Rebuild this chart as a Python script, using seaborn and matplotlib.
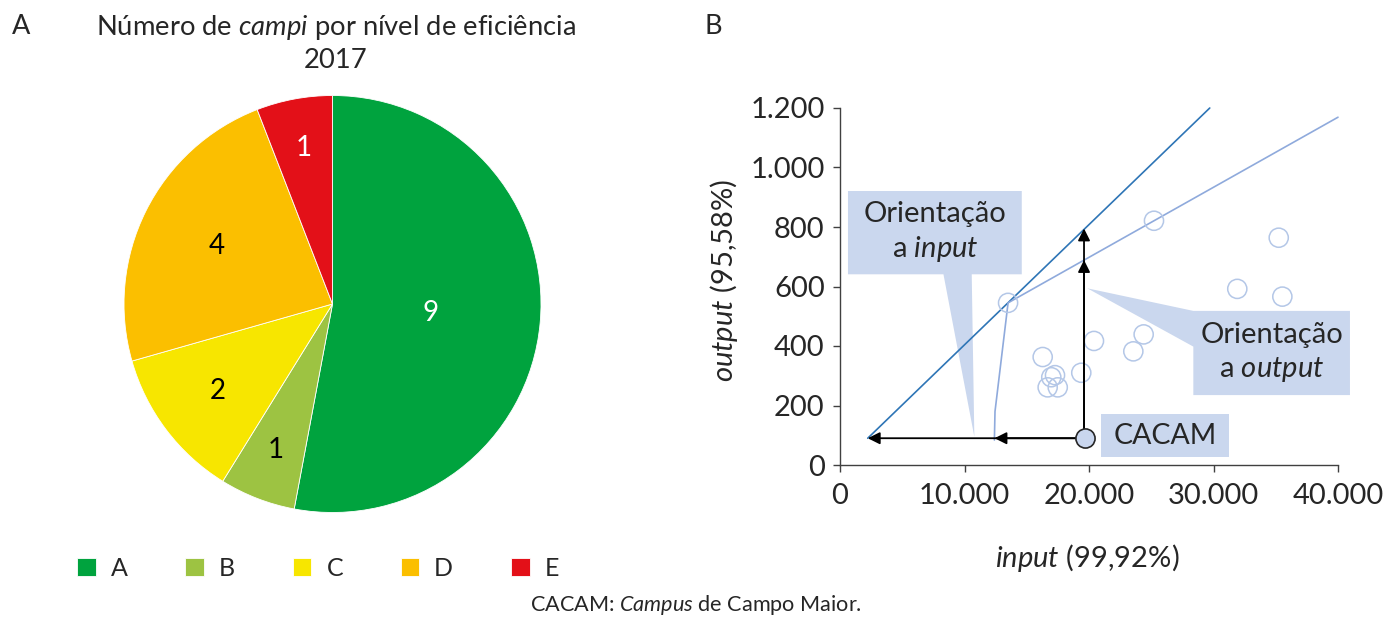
import numpy as np
import matplotlib
matplotlib.use("Agg")
import matplotlib.pyplot as plt
import seaborn as sns
import pandas as pd
from matplotlib.patches import Polygon
from matplotlib.ticker import FuncFormatter

# ---- data ----
levels = ["A", "B", "C", "D", "E"]
campi_count = [9, 1, 2, 4, 1]
level_colors = ["#00A33E", "#9DC342", "#F7E600", "#FBBF00", "#E31018"]
label_text_colors = ["white", "black", "black", "black", "white"]

dmu_input = [13500, 25220, 35240, 31910, 35530, 24390, 23560, 20400,
             16280, 19380, 17270, 16970, 16680, 17490]
dmu_output = [545, 821, 764, 592, 566, 439, 382, 417,
              363, 310, 302, 295, 261, 261]

cacam_input = 19700
cacam_output = 90

crs_x = [2230, 29700]
crs_y = [90, 1200]
vrs_x = [12400, 12450, 13500, 25220, 40000]
vrs_y = [84, 180, 545, 821, 1169]

# arrow tips (projections of CACAM)
input_tips = [12410, 2230]
output_tips = [689, 795]

x_ticks = [0, 10000, 20000, 30000, 40000]
y_ticks = [0, 200, 400, 600, 800, 1000, 1200]

sns.set_theme(style="white")
plt.rcParams["font.family"] = ["Lato", "DejaVu Sans"]
plt.rcParams["mathtext.fontset"] = "custom"
plt.rcParams["mathtext.rm"] = "Lato"
plt.rcParams["mathtext.it"] = "Lato:italic"

fig = plt.figure(figsize=(13.86, 6.18), dpi=100)
W, H = 1386, 618

# ---- panel A: pie ----
ax_pie = fig.add_axes([124 / W, (H - 512.5) / H, 417 / W, 417 / H])
wedges, _ = ax_pie.pie(campi_count, colors=level_colors, startangle=90,
                       counterclock=False, radius=1,
                       wedgeprops=dict(linewidth=0.6, edgecolor="white"))
ax_pie.set_xlim(-1, 1)
ax_pie.set_ylim(-1, 1)
label_dist = [0.47, 0.75, 0.69, 0.62, 0.76]
for w, n, c, r in zip(wedges, campi_count, label_text_colors, label_dist):
    mid = np.deg2rad((w.theta1 + w.theta2) / 2)
    ax_pie.text(r * np.cos(mid), r * np.sin(mid), str(n), color=c,
                fontsize=20, ha="center", va="center")

fig.text(12 / W, 1 - 27 / H, "A", fontsize=19.5, ha="left", va="center")
fig.text(336 / W, 1 - 27 / H, r"Número de $\mathit{campi}$ por nível de eficiência",
         fontsize=19.7, ha="center", va="center")
fig.text(336 / W, 1 - 61 / H, "2017", fontsize=19.7, ha="center", va="center")

fig.legend(wedges, levels, loc="center", bbox_to_anchor=(318 / W, 1 - 568 / H),
           ncol=5, frameon=False, fontsize=18, handlelength=0.75,
           handleheight=0.75, handletextpad=0.6, columnspacing=2.3)

fig.text(696 / W, 1 - 605 / H, r"CACAM: $\mathit{Campus}$ de Campo Maior.",
         fontsize=15.6, ha="center", va="center")

# ---- panel B: DEA frontier ----
fig.text(713 / W, 1 - 27 / H, "B", fontsize=19.5, ha="center", va="center")
ax = fig.add_axes([840 / W, (H - 465) / H, 498 / W, 357 / H])

df = pd.DataFrame({"input": dmu_input, "output": dmu_output})

# callouts (drawn beneath the lines)
box_col = "#CAD7EE"
ax.add_patch(Polygon([(640, 921), (14600, 921), (14600, 641), (10580, 641),
                      (10790, 95), (8310, 641), (640, 641)],
                     closed=True, facecolor=box_col, edgecolor="none",
                     zorder=1, clip_on=False))
ax.text(7620, 781, "Orientação\na $\\mathit{input}$", fontsize=21,
        ha="center", va="center", linespacing=1.3, zorder=5)
ax.add_patch(Polygon([(28380, 518), (40960, 518), (40960, 235), (28380, 235),
                      (28380, 398), (19860, 594)],
                     closed=True, facecolor=box_col, edgecolor="none",
                     zorder=1, clip_on=False))
ax.text(34670, 376, "Orientação\na $\\mathit{output}$", fontsize=21,
        ha="center", va="center", linespacing=1.3, zorder=5)
ax.add_patch(Polygon([(20960, 171), (31245, 171), (31245, 28), (20960, 28)],
                     closed=True, facecolor=box_col, edgecolor="none",
                     zorder=1, clip_on=False))
ax.text(26100, 99, "CACAM", fontsize=20.5, ha="center", va="center", zorder=5)

ax.plot(crs_x, crs_y, color="#2E75B6", lw=1.2, zorder=2, clip_on=False)
ax.plot(vrs_x, vrs_y, color="#8FAADC", lw=1.2, zorder=2, clip_on=False)

sns.scatterplot(data=df, x="input", y="output", ax=ax, s=190,
                facecolor="none", edgecolor="#B4C7E7", linewidth=1.1,
                zorder=3, legend=False)

arrow_kw = dict(arrowstyle="-|>", color="black", lw=1.3,
                mutation_scale=18, shrinkA=0, shrinkB=0)
for xt in input_tips:
    ax.annotate("", xy=(xt, cacam_output), xytext=(cacam_input, cacam_output),
                arrowprops=arrow_kw, zorder=4)
for yt in output_tips:
    ax.annotate("", xy=(cacam_input - 100, yt), xytext=(cacam_input - 100, cacam_output),
                arrowprops=arrow_kw, zorder=4)

ax.scatter([cacam_input], [cacam_output], s=190, facecolor="#C9D6EE",
           edgecolor="#262626", linewidth=1.2, zorder=6)

ax.set_xlim(0, 40000)
ax.set_ylim(0, 1200)
ax.set_xticks(x_ticks)
ax.set_yticks(y_ticks)
fmt = FuncFormatter(lambda v, p: f"{int(v):,}".replace(",", "."))
ax.xaxis.set_major_formatter(fmt)
ax.yaxis.set_major_formatter(fmt)
ax.tick_params(axis="both", labelsize=21, direction="out", length=5,
               width=1, color="#404040", left=True, bottom=True)
ax.tick_params(axis="x", pad=8)
ax.tick_params(axis="y", pad=6)
sns.despine(ax=ax)
for s in ["left", "bottom"]:
    ax.spines[s].set_color("#404040")
    ax.spines[s].set_linewidth(1)
ax.set_xlabel(r"$\mathit{input}$ (99,92%)", fontsize=21)
ax.set_ylabel(r"$\mathit{output}$ (95,58%)", fontsize=21)
ax.xaxis.set_label_coords(0.496, -0.215)
ax.yaxis.set_label_coords(-0.200, 0.518)

fig.savefig("out.png", dpi=100)
